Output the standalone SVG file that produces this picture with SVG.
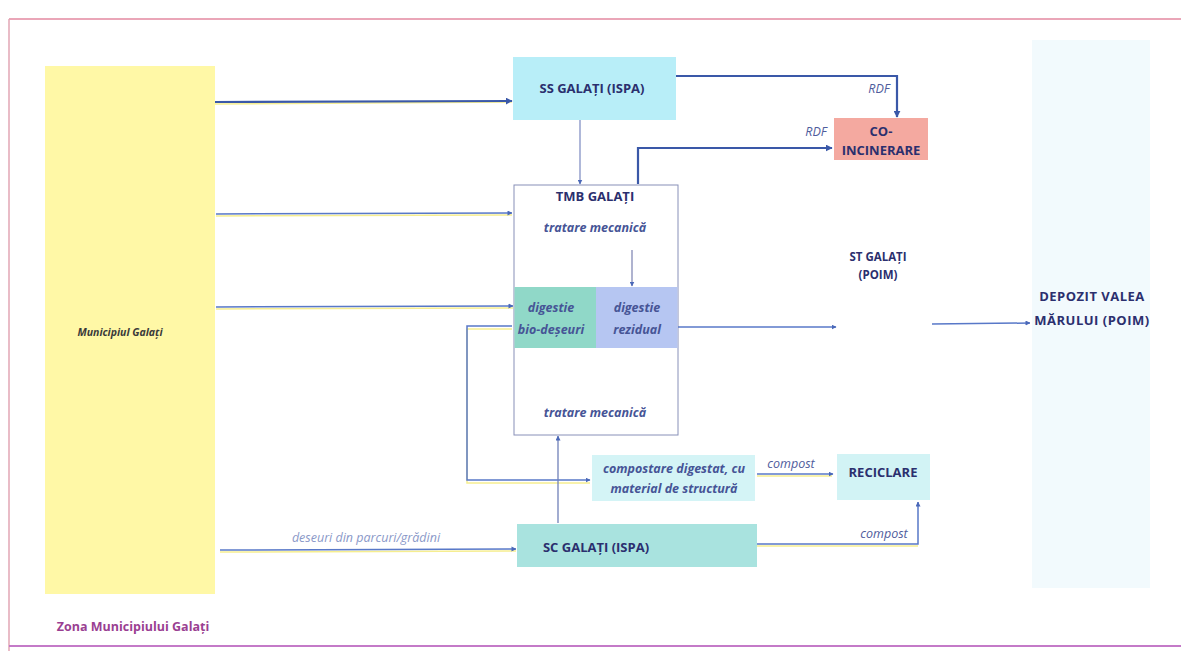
<svg xmlns="http://www.w3.org/2000/svg" width="1181" height="651" viewBox="0 0 1181 651">
<defs>
<marker id="ah" viewBox="0 0 10 10" refX="9" refY="5" markerWidth="5" markerHeight="5" orient="auto-start-reverse" markerUnits="userSpaceOnUse"><path d="M0,0 L10,5 L0,10 z" fill="#4a68b8"/></marker>
<marker id="ahd" viewBox="0 0 10 10" refX="9" refY="5" markerWidth="7" markerHeight="7" orient="auto-start-reverse" markerUnits="userSpaceOnUse"><path d="M0,0 L10,5 L0,10 z" fill="#3a58a8"/></marker>
<style>
.lbl{font-family:"Open Sans","Liberation Sans",sans-serif;font-weight:bold;font-size:13px;fill:#2b2f6e;text-anchor:middle}
.it{font-family:"Open Sans","Liberation Sans",sans-serif;font-style:italic;font-size:12.5px;fill:#4f5c9c;text-anchor:middle}
.itb{font-family:"Open Sans","Liberation Sans",sans-serif;font-style:italic;font-weight:bold;font-size:12.5px;fill:#465496;text-anchor:middle}
.ln{fill:none;stroke:#5878c8;stroke-width:1.5}
.lnd{fill:none;stroke:#3a58a8;stroke-width:2.2}
.sh{fill:none;stroke:#f6ee90;stroke-width:1.5}
</style>
</defs>
<rect width="1181" height="651" fill="#ffffff"/>
<g id="frame">
<line x1="9" y1="19" x2="1181" y2="19" stroke="#eaa6b8" stroke-width="2"/>
<line x1="9" y1="19" x2="9" y2="651" stroke="#e2a6b4" stroke-width="1.5"/>
<line x1="9" y1="646" x2="1181" y2="646" stroke="#c47ac8" stroke-width="2"/>
</g>
<g id="municipiul">
<rect x="45" y="66" width="170" height="528" fill="#fff8a6"/>
<text x="120" y="336" class="lbl" style="fill:#3a3a3a;font-size:10.5px;font-style:italic">Municipiul Galați</text>
</g>
<g id="depozit">
<rect x="1032" y="40" width="118" height="548" fill="#f2fafd"/>
<text x="1092" y="301" class="lbl" style="letter-spacing:0.5px">DEPOZIT VALEA</text>
<text x="1092" y="325" class="lbl" style="letter-spacing:0.5px">MĂRULUI (POIM)</text>
</g>
<g id="zona">
<text x="133" y="631" class="lbl" style="fill:#9a3f92;font-size:12.5px">Zona Municipiului Galați</text>
</g>
<g id="ss">
<rect x="513" y="57" width="163" height="63" fill="#b8eef8"/>
<text x="592" y="93" class="lbl">SS GALAȚI (ISPA)</text>
</g>
<g id="co">
<rect x="834" y="118" width="94" height="42" fill="#f4a9a0"/>
<text x="881" y="136" class="lbl">CO-</text>
<text x="881" y="155" class="lbl">INCINERARE</text>
</g>
<g id="tmb">
<rect x="514" y="185" width="164" height="250" fill="#ffffff" stroke="#8890b8" stroke-width="1"/>
<text x="595" y="201" class="lbl">TMB GALAȚI</text>
<text x="595" y="232" class="itb">tratare mecanică</text>
<rect x="514.5" y="287" width="81.5" height="61" fill="#90d8c8"/>
<rect x="596" y="287" width="81.5" height="61" fill="#b6c6f2"/>
<text x="551" y="312" class="itb">digestie</text>
<text x="551" y="334" class="itb">bio-deșeuri</text>
<text x="637" y="312" class="itb">digestie</text>
<text x="637" y="334" class="itb">rezidual</text>
<text x="595" y="417" class="itb">tratare mecanică</text>
</g>
<g id="st">
<text x="878" y="261" class="lbl" style="font-size:11.5px">ST GALAȚI</text>
<text x="878" y="279" class="lbl" style="font-size:11.5px">(POIM)</text>
</g>
<g id="compostare">
<rect x="592" y="455" width="163" height="46" fill="#d4f4f6"/>
<text x="674" y="473" class="itb">compostare digestat, cu</text>
<text x="674" y="493" class="itb">material de structură</text>
</g>
<g id="reciclare">
<rect x="837" y="454" width="93" height="46" fill="#d2f3f5"/>
<text x="883" y="477" class="lbl">RECICLARE</text>
</g>
<g id="sc">
<rect x="517" y="524" width="240" height="43" fill="#a9e3df"/>
<text x="596" y="552" class="lbl">SC GALAȚI (ISPA)</text>
</g>
<g id="connectors">
<line x1="215" y1="104" x2="512" y2="102" class="sh"/>
<line x1="215" y1="102" x2="512" y2="101" class="lnd" marker-end="url(#ahd)"/>
<line x1="216" y1="216" x2="512" y2="215" class="sh"/>
<line x1="216" y1="214" x2="512" y2="213" class="ln" marker-end="url(#ah)"/>
<line x1="216" y1="309" x2="513" y2="308" class="sh"/>
<line x1="216" y1="307" x2="513" y2="306" class="ln" marker-end="url(#ah)"/>
<line x1="220" y1="552" x2="516" y2="551" class="sh"/>
<line x1="220" y1="550" x2="516" y2="549" class="ln" marker-end="url(#ah)"/>
<text x="366" y="542" class="it" style="fill:#8a98c8">deseuri din parcuri/grădini</text>
<line x1="580" y1="120" x2="580" y2="184" stroke="#7a88c0" stroke-width="1.2" marker-end="url(#ah)"/>
<polyline points="676,76 897,76 897,117" class="lnd" marker-end="url(#ahd)"/>
<text x="879" y="93" class="it">RDF</text>
<polyline points="638,184 638,148 832,148" class="lnd" marker-end="url(#ahd)"/>
<text x="816" y="136" class="it">RDF</text>
<line x1="632" y1="250" x2="632" y2="286" stroke="#7a80b0" stroke-width="1.2" marker-end="url(#ah)"/>
<polyline points="512,327 467,327 467,481 590,481" class="sh" transform="translate(0,2)"/>
<polyline points="512,326 467,326 467,480 590,480" class="ln" marker-end="url(#ah)"/>
<line x1="558" y1="523" x2="558" y2="436" stroke="#7080b8" stroke-width="1.3" marker-end="url(#ah)"/>
<line x1="678" y1="327" x2="836" y2="327" class="ln" marker-end="url(#ah)"/>
<line x1="932" y1="324" x2="1030" y2="323" class="ln" marker-end="url(#ah)"/>
<line x1="757" y1="476" x2="832" y2="476" class="sh"/>
<line x1="757" y1="474" x2="833" y2="474" class="ln" marker-end="url(#ah)"/>
<text x="791" y="468" class="it">compost</text>
<line x1="757" y1="546" x2="918" y2="546" class="sh"/>
<polyline points="757,544 918,544 918,502" class="ln" marker-end="url(#ah)"/>
<text x="884" y="538" class="it">compost</text>
</g>
</svg>
